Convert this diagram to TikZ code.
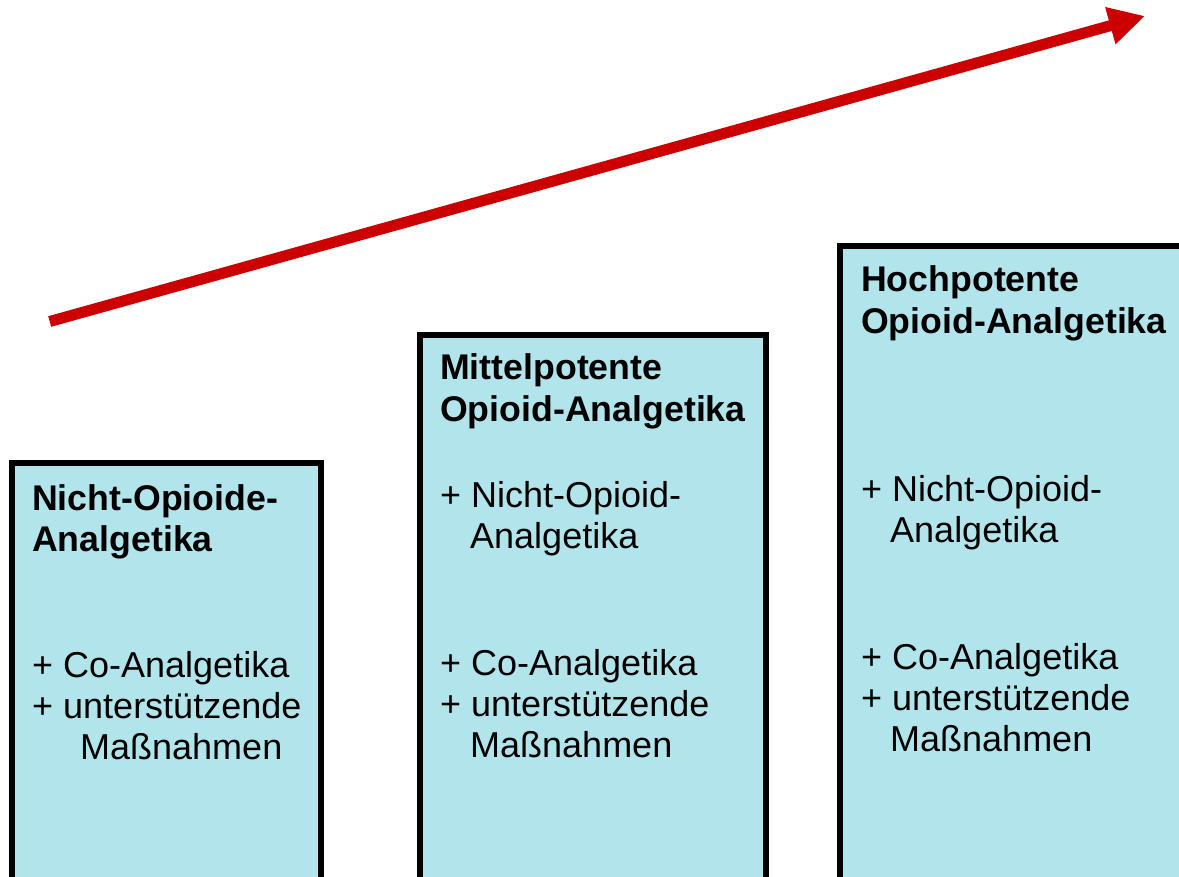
\documentclass[tikz,border=0pt]{standalone}
\usepackage{fontspec}
\setmainfont{Liberation Sans}
\usetikzlibrary{arrows.meta}
\definecolor{boxfill}{RGB}{178,229,235}
\definecolor{arrowred}{RGB}{204,0,0}
\begin{document}
\begin{tikzpicture}[x=1pt,y=-1pt,
  stage/.style={draw=black, fill=boxfill, line width=6pt, outer sep=0pt,
    inner sep=0pt, anchor=north west, minimum height=800pt},
  ttl/.style={anchor=base west, inner sep=0pt, font=\fontsize{35.7}{41.5}\selectfont\bfseries},
  txt/.style={anchor=base west, inner sep=0pt, font=\fontsize{36}{41.5}\selectfont},
  rise/.style={draw=arrowred, line width=11pt,
    -{Triangle[length=36pt,width=36pt]}}]
\useasboundingbox (0,0) rectangle (1179,877);
\clip (0,0) rectangle (1179,877);

% three stages, each running off the bottom edge
\node[stage, minimum width=308.5pt] (b1) at (12,463) {};
\node[stage, minimum width=346pt]   (b2) at (419.7,335.3) {};
\node[stage, minimum width=400pt]   (b3) at (840.3,246.3) {};

% stage 1
\node[ttl] (b1t1) at (32,510) {Nicht-Opioide-};
\node[ttl] (b1t2) at (32,551) {Analgetika};
\node[txt] (b1a)  at (32,677) {+ Co-Analgetika};
\node[txt] (b1b)  at (32,718) {+ unterstützende};
\node[txt] (b1c)  at (80,759) {Maßnahmen};

% stage 2
\node[ttl] (b2t1) at (440,380) {Mittelpotente};
\node[ttl] (b2t2) at (440,421) {Opioid-Analgetika};
\node[txt] (b2a)  at (440,507) {+ Nicht-Opioid-};
\node[txt] (b2b)  at (470,548) {Analgetika};
\node[txt] (b2c)  at (440,675) {+ Co-Analgetika};
\node[txt] (b2d)  at (440,716) {+ unterstützende};
\node[txt] (b2e)  at (470,757) {Maßnahmen};

% stage 3
\node[ttl] (b3t1) at (861,292) {Hochpotente};
\node[ttl] (b3t2) at (861,334) {Opioid-Analgetika};
\node[txt] (b3a)  at (861,501) {+ Nicht-Opioid-};
\node[txt] (b3b)  at (890,542) {Analgetika};
\node[txt] (b3c)  at (861,669) {+ Co-Analgetika};
\node[txt] (b3d)  at (861,710) {+ unterstützende};
\node[txt] (b3e)  at (890,751) {Maßnahmen};

% rising arrow
\coordinate (from) at (49.7,321.5);
\coordinate (to) at (1145,16);
\draw[rise] (from) -- (to);
\end{tikzpicture}
\end{document}
